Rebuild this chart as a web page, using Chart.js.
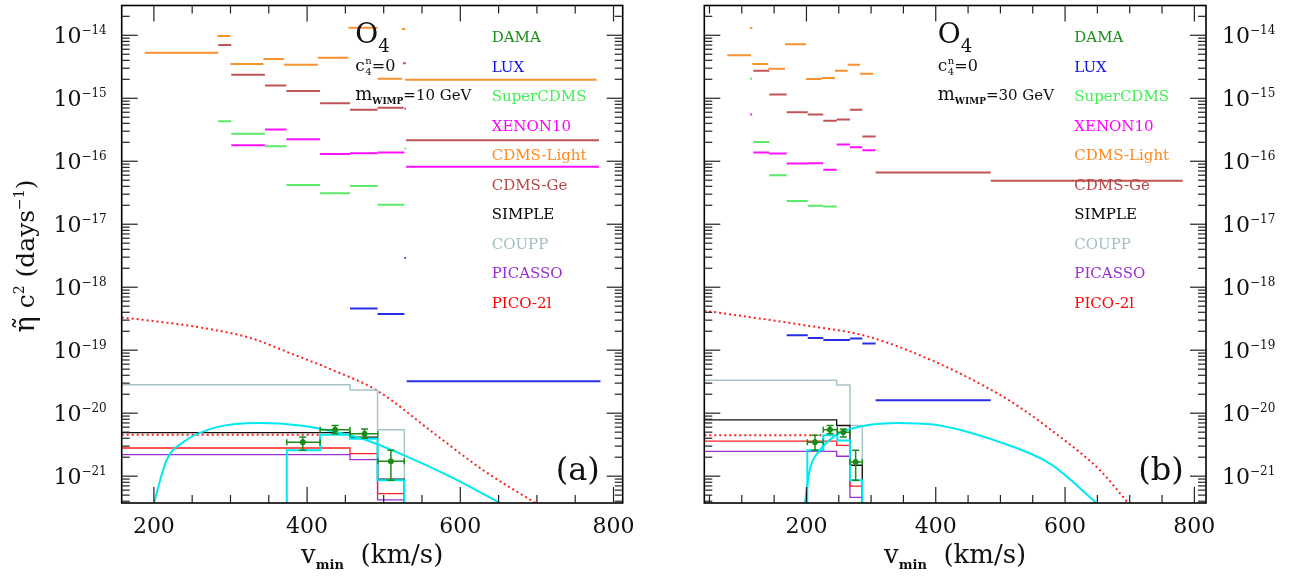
<!DOCTYPE html>
<html>
<head>
<meta charset="utf-8">
<script src="https://cdn.jsdelivr.net/npm/chart.js@4.4.1/dist/chart.umd.min.js"></script>
<style>
  body { margin: 0; background: #fff; }
  #wrap { position: relative; width: 1296px; height: 579px; }
  canvas { position: absolute; top: 0; }
</style>
</head>
<body>
<div id="wrap">
  <canvas id="chartA" width="660" height="579" style="left:0"></canvas>
  <canvas id="chartB" width="636" height="579" style="left:660px"></canvas>
</div>
<script>
// ---- axes ----
const yLo = 3.75e-22, yHi = 2.97e-14;
const yDecades = [-21, -20, -19, -18, -17, -16, -15, -14];
const xTickLabels = [200, 400, 600, 800];
const xRangeA = [158, 812];
const xRangeB = [42, 818];

const legendNames  = ['DAMA', 'LUX', 'SuperCDMS', 'XENON10', 'CDMS-Light', 'CDMS-Ge', 'SIMPLE', 'COUPP', 'PICASSO', 'PICO-2l'];
const legendColors = ['#1a8c1a', '#1010e0', '#44ee55', '#ff00ff', '#ff8a1f', '#b94646', '#000000', '#a2c0c4', '#9b30d0', '#ff0000'];

// ---- panel (a), m = 10 GeV : [vlo, vhi, value] ----
const lightA = [[188,284,5.3e-15],[283,300,9.7e-15],[300,343,3.5e-15],[343,370,4.2e-15],[370,414,3.4e-15],
                [414,454,4.4e-15],[454,492,1.32e-14],[492,524,2.05e-15],[524,528,1.26e-14],[528,778,1.97e-15]];
const geA    = [[284,301,7.0e-15],[301,345,2.37e-15],[345,373,1.59e-15],[373,417,1.31e-15],[417,456,8.3e-16],
                [456,492,6.6e-16],[492,526,7.1e-16],[525,529,3.6e-15],[529,781,2.16e-16]];
const superA = [[284,301,4.3e-16],[301,345,2.72e-16],[345,373,1.73e-16],[373,417,4.2e-17],[417,456,3.1e-17],
                [456,492,4.05e-17],[492,527,2.04e-17],[527,529,1.6e-16]];
const xenonA = [[301,345,1.8e-16],[345,373,3.2e-16],[373,417,2.24e-16],[417,456,1.3e-16],[456,492,1.34e-16],
                [492,527,1.38e-16],[527,529,6.8e-16],[529,781,8.2e-17]];
const luxA   = [[527,529,2.9e-18],[456,492,4.6e-19],[492,527,3.76e-19],[530,783,3.2e-20]];

const stepEdgesA = [158, 456, 492, 527];
const couppA   = [2.82e-20, 2.33e-20, 5.45e-21];
const simpleA  = [4.9e-21, 4.17e-21, 9.0e-22];
const picoA    = [2.8e-21, 2.28e-21, 5.3e-22];
const picassoA = [2.2e-21, 1.83e-21, 4.2e-22];
const cyanEdgesA = [373.5, 417, 456, 492, 527];
const cyanStepA  = [2.57e-21, 4.55e-21, 3.94e-21, 8.65e-22];
const dotFlatA = [[158, 417, 4.55e-21]];

const damaA_v   = [394.4, 436.6, 475, 509.4];
const damaA_vlo = [373.5, 417, 456, 492.4];
const damaA_vhi = [417, 456, 492.4, 526.8];
const damaA_e   = [3.47e-21, 5.45e-21, 4.7e-21, 1.72e-21];
const damaA_elo = [2.57e-21, 4.7e-21, 4.0e-21, 8.65e-22];
const damaA_ehi = [4.17e-21, 6.35e-21, 5.6e-21, 2.57e-21];

const dotCurveA_v = [158, 194.8, 260, 325.5, 381.7, 434, 491, 569.5, 630, 698];
const dotCurveA_e = [3.3e-19, 2.95e-19, 2.3e-19, 1.57e-19, 8.6e-20, 4.8e-20, 2.3e-20, 4.4e-21, 1.24e-21, 3.75e-22];
const cyanCurveA_v = [200, 216.6, 238.3, 282, 338.6, 390.8, 438.8, 473, 521.6, 587, 652];
const cyanCurveA_e = [3.75e-22, 1.79e-21, 3.47e-21, 6.0e-21, 7.0e-21, 6.4e-21, 5.0e-21, 3.9e-21, 2.28e-21, 9.8e-22, 3.75e-22];

// ---- panel (b), m = 30 GeV ----
const lightB = [[112.7,116.3,1.3e-14],[77.6,114.2,4.8e-15],[116.2,141,3.5e-15],[141,166.8,2.94e-15],[166.8,199.3,7.2e-15],
                [199.3,223.5,2.02e-15],[223.5,244,2.1e-15],[244,263.8,2.73e-15],[263.8,282.8,3.4e-15],[282.8,303.4,2.45e-15]];
const geB    = [[117.8,142.5,2.73e-15],[142.5,169.4,1.15e-15],[169.4,202,6.0e-16],[202,226,5.5e-16],[226,246.7,4.4e-16],
                [246.7,267.3,4.6e-16],[267.3,286.4,6.6e-16],[286.4,307,2.47e-16],[307,485,6.6e-17],[485,782,4.9e-17]];
const superB = [[113,116,2.05e-15],[117.8,142.5,2.03e-16],[142.5,169.4,6.0e-17],[169.4,202,2.33e-17],[202,226,1.96e-17],
                [226,246.7,1.92e-17]];
const xenonB = [[113,116,5.5e-16],[117.8,142.5,1.38e-16],[142.5,169.4,1.33e-16],[169.4,202,9.2e-17],[202,226,9.3e-17],
                [226,246.7,7.3e-17],[246.7,267.3,1.85e-16],[267.3,286.4,1.67e-16],[286.4,307,1.5e-16]];
const luxB   = [[169.4,202,1.73e-19],[202,226,1.56e-19],[226,246.7,1.45e-19],[246.7,267.3,1.45e-19],
                [267.3,286.4,1.53e-19],[286.4,307,1.28e-19],[307,485,1.6e-20]];

const stepEdgesB = [42, 246.7, 267.3, 286.4];
const couppB   = [3.33e-20, 2.8e-20, 6.37e-21];
const simpleB  = [7.83e-21, 6.37e-21, 1.49e-21];
const picoB    = [3.6e-21, 3.09e-21, 6.96e-22];
const picassoB = [2.48e-21, 2.07e-21, 4.6e-22];
const cyanEdgesB = [201.3, 226, 247.7, 267.3, 286.4];
const cyanStepB  = [2.57e-21, 4.47e-21, 3.7e-21, 8.65e-22];
const dotFlatB = [[42, 223.5, 4.47e-21]];

const damaB_v   = [213.2, 236.4, 257, 276.1];
const damaB_vlo = [201.3, 226, 247.7, 267.3];
const damaB_vhi = [226, 247.7, 267.3, 286.4];
const damaB_e   = [3.47e-21, 5.45e-21, 5.0e-21, 1.68e-21];
const damaB_elo = [2.57e-21, 4.7e-21, 4.17e-21, 8.65e-22];
const damaB_ehi = [4.47e-21, 6.37e-21, 5.6e-21, 2.57e-21];

const dotCurveB_v = [42, 190, 293, 396, 484, 530, 581.7, 654, 697];
const dotCurveB_e = [4.25e-19, 2.55e-19, 1.67e-19, 6.75e-20, 2.4e-20, 1.24e-20, 5.1e-21, 1.24e-21, 3.8e-22];
const cyanCurveB_v = [197.7, 205, 220.6, 241.5, 267.3, 339.6, 396, 499, 576.6, 648.9];
const cyanCurveB_e = [3.75e-22, 1.24e-21, 2.57e-21, 4.17e-21, 5.6e-21, 7.0e-21, 6.6e-21, 3.47e-21, 1.58e-21, 3.75e-22];

const FLOOR = 1e-23;
const SERIF = '"DejaVu Serif", "Liberation Serif", serif';

// ---- dataset builders ----
function segs(list, color, w, dash) {
  const pts = [];
  list.forEach(s => { pts.push({x: s[0], y: s[2]}, {x: s[1], y: s[2]}, {x: s[1], y: null}); });
  return {data: pts, borderColor: color, borderWidth: w || 2, borderDash: dash || [], pointRadius: 0, spanGaps: false};
}
function steps(edges, vals, color, w, rise) {
  const pts = [];
  if (rise) pts.push({x: edges[0], y: FLOOR});
  vals.forEach((v, i) => { pts.push({x: edges[i], y: v}, {x: edges[i + 1], y: v}); });
  pts.push({x: edges[edges.length - 1], y: FLOOR});
  return {data: pts, borderColor: color, borderWidth: w || 1.4, pointRadius: 0};
}
function curve(vs, es, color, w, dash) {
  return {data: vs.map((v, i) => ({x: v, y: es[i]})), borderColor: color, borderWidth: w,
          borderDash: dash || [], pointRadius: 0, cubicInterpolationMode: 'monotone'};
}
function dama(v, vlo, vhi, e, elo, ehi) {
  const c = legendColors[0];
  const bars = [], vcaps = [], hcaps = [], dots = [];
  v.forEach((x, i) => {
    bars.push({x: vlo[i], y: e[i]}, {x: vhi[i], y: e[i]}, {x: vhi[i], y: null},
              {x: x, y: elo[i]}, {x: x, y: ehi[i]}, {x: x, y: null});
    vcaps.push({x: x, y: elo[i]}, {x: x, y: ehi[i]});
    hcaps.push({x: vlo[i], y: e[i]}, {x: vhi[i], y: e[i]});
    dots.push({x: x, y: e[i]});
  });
  return [
    {data: dots, showLine: false, pointRadius: 2.6, pointBackgroundColor: c, pointBorderColor: c},
    {data: vcaps, showLine: false, pointStyle: 'line', pointRadius: 3.5, pointBorderWidth: 1.5, pointBorderColor: c},
    {data: hcaps, showLine: false, pointStyle: 'line', pointRotation: 90, pointRadius: 3, pointBorderWidth: 1.5, pointBorderColor: c},
    {data: bars, borderColor: c, borderWidth: 1.5, pointRadius: 0, spanGaps: false}
  ];
}

// ---- text helpers ----
function runs(ctx, x, y, parts, align) {
  let w = 0;
  parts.forEach(p => { ctx.font = (p[3] ? 'bold ' : '') + p[1] + 'px ' + SERIF; w += ctx.measureText(p[0]).width; });
  let cx = align === 'center' ? x - w / 2 : align === 'right' ? x - w : x;
  parts.forEach(p => {
    ctx.font = (p[3] ? 'bold ' : '') + p[1] + 'px ' + SERIF;
    ctx.fillText(p[0], cx, y + (p[2] || 0));
    cx += ctx.measureText(p[0]).width;
  });
  return cx;
}
function line(ctx, x1, y1, x2, y2) { ctx.beginPath(); ctx.moveTo(x1, y1); ctx.lineTo(x2, y2); ctx.stroke(); }

function decor(side, mass, tag) {
  return {
    id: 'decor' + side,
    afterDatasetsDraw(chart) {
      const {ctx, chartArea: a, scales: {x, y}} = chart;
      ctx.save();
      ctx.textBaseline = 'alphabetic';
      ctx.fillStyle = '#000';
      // frame
      ctx.strokeStyle = '#000'; ctx.lineWidth = 1.6;
      ctx.strokeRect(a.left, a.top, a.right - a.left, a.bottom - a.top);
      // inward ticks
      ctx.strokeStyle = '#222'; ctx.lineWidth = 1.2;
      for (let v = Math.ceil(x.min / 50) * 50; v <= x.max; v += 50) {
        const px = x.getPixelForValue(v), L = v % 200 === 0 ? 16 : 8;
        line(ctx, px, a.bottom, px, a.bottom - L);
        line(ctx, px, a.top, px, a.top + L);
      }
      for (let d = -22; d <= -14; d++) {
        for (let m = 1; m < 10; m++) {
          const val = m * Math.pow(10, d);
          if (val < y.min || val > y.max) continue;
          const py = y.getPixelForValue(val), L = m === 1 ? 16 : 8;
          line(ctx, a.left, py, a.left + L, py);
          line(ctx, a.right, py, a.right - L, py);
        }
      }
      // tick labels
      ctx.fillStyle = '#111';
      xTickLabels.forEach(v => {
        if (v < x.min || v > x.max) return;
        ctx.font = '22px ' + SERIF; ctx.textAlign = 'center';
        ctx.fillText(String(v), x.getPixelForValue(v), a.bottom + 30);
      });
      ctx.textAlign = 'left';
      yDecades.forEach(d => {
        const py = y.getPixelForValue(Math.pow(10, d)) + 8;
        const parts = [['10', 22], ['\u2212' + String(-d), 12, -9]];
        if (side === 'left') runs(ctx, a.left - 15, py, parts, 'right');
        else runs(ctx, a.right + 16, py, parts, 'left');
      });
      // x title
      const cxm = (a.left + a.right) / 2;
      runs(ctx, cxm, a.bottom + 60, [['v', 26], ['min', 13, 6, true], ['  (km/s)', 26]], 'center');
      // y title
      if (side === 'left') {
        ctx.save();
        ctx.translate(34, 256);
        ctx.rotate(-Math.PI / 2);
        runs(ctx, 0, 0, [['\u03B7\u0303', 27], [' c', 25], ['2', 14, -10], [' (days', 25], ['\u22121', 14, -10], [')', 25]], 'center');
        ctx.restore();
      }
      // annotations
      const ax = a.left + 233.5;
      runs(ctx, ax, 43, [['O', 28], ['4', 18, 9]], 'left');
      ctx.font = '17px ' + SERIF; ctx.fillText('c', ax, 71);
      const cw = ctx.measureText('c').width;
      ctx.font = '10px ' + SERIF; ctx.fillText('n', ax + cw + 0.5, 64); ctx.fillText('4', ax + cw + 0.5, 75);
      runs(ctx, ax + cw + 7, 71, [['=0', 16]], 'left');
      runs(ctx, ax, 100, [['m', 18], ['WIMP', 9, 4, true], ['=' + mass + ' GeV', 15]], 'left');
      // legend
      legendNames.forEach((n, i) => {
        ctx.fillStyle = legendColors[i];
        ctx.font = '15px ' + SERIF;
        ctx.fillText(n, a.left + 370, 42 + i * 29.5);
      });
      ctx.fillStyle = '#111';
      runs(ctx, a.left + 434, 480, [[tag, 32]], 'left');
      ctx.restore();
    }
  };
}

function panel(id, xr, pad, side, mass, tag, d) {
  const ds = [].concat(
    d.dama,
    [curve(d.cyanV, d.cyanE, '#00e8f0', 2)],
    [steps(d.cyanEdges, d.cyanStep, '#00e8f0', 2, true)],
    [steps(d.stepEdges, d.simple, '#111111', 1.3)],
    [steps(d.stepEdges, d.pico, '#ff2020', 1.3)],
    [steps(d.stepEdges, d.picasso, '#9b30d0', 1.3)],
    [steps(d.stepEdges, d.coupp, '#a8c4c8', 1.5)],
    [segs(d.dotFlat, '#ff2020', 2, [2, 3])],
    [curve(d.dotV, d.dotE, '#ff2020', 2, [2, 3])],
    [segs(d.lux, '#2530e6', 2)],
    [segs(d.xenon, '#ff10ff', 2)],
    [segs(d.sup, '#5ce86a', 2)],
    [segs(d.ge, '#c05555', 2)],
    [segs(d.light, '#f7922e', 2)]
  );
  return new Chart(document.getElementById(id), {
    type: 'line',
    data: {datasets: ds},
    options: {
      responsive: false, animation: false, events: [],
      layout: {padding: pad},
      plugins: {legend: {display: false}, tooltip: {enabled: false}},
      scales: {
        x: {type: 'linear', min: xr[0], max: xr[1], display: false},
        y: {type: 'logarithmic', min: yLo, max: yHi, display: false}
      }
    },
    plugins: [decor(side, mass, tag)]
  });
}

panel('chartA', xRangeA, {left: 121.7, right: 37.3, top: 2, bottom: 76}, 'left', '10', '(a)', {
  dama: dama(damaA_v, damaA_vlo, damaA_vhi, damaA_e, damaA_elo, damaA_ehi),
  cyanV: cyanCurveA_v, cyanE: cyanCurveA_e, cyanEdges: cyanEdgesA, cyanStep: cyanStepA,
  stepEdges: stepEdgesA, simple: simpleA, pico: picoA, picasso: picassoA, coupp: couppA,
  dotFlat: dotFlatA, dotV: dotCurveA_v, dotE: dotCurveA_e,
  lux: luxA, xenon: xenonA, sup: superA, ge: geA, light: lightA
});
panel('chartB', xRangeB, {left: 44.3, right: 90, top: 2, bottom: 76}, 'right', '30', '(b)', {
  dama: dama(damaB_v, damaB_vlo, damaB_vhi, damaB_e, damaB_elo, damaB_ehi),
  cyanV: cyanCurveB_v, cyanE: cyanCurveB_e, cyanEdges: cyanEdgesB, cyanStep: cyanStepB,
  stepEdges: stepEdgesB, simple: simpleB, pico: picoB, picasso: picassoB, coupp: couppB,
  dotFlat: dotFlatB, dotV: dotCurveB_v, dotE: dotCurveB_e,
  lux: luxB, xenon: xenonB, sup: superB, ge: geB, light: lightB
});
</script>
</body>
</html>
